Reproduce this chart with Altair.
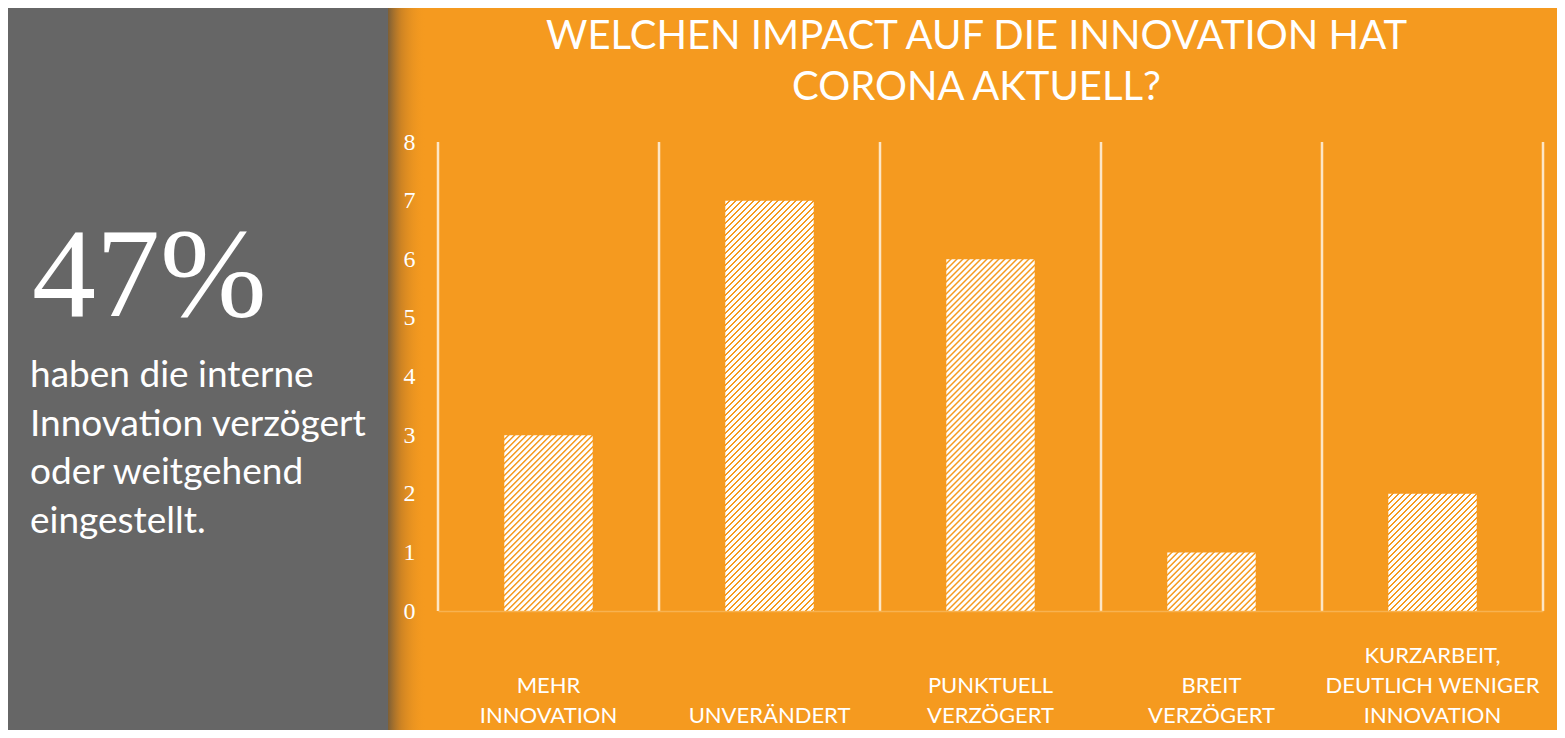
import json
import altair as alt
import pandas as pd

# ---------------- data ----------------
CATEGORIES = [
    "MEHR INNOVATION",
    "UNVERÄNDERT",
    "PUNKTUELL VERZÖGERT",
    "BREIT VERZÖGERT",
    "KURZARBEIT, DEUTLICH WENIGER INNOVATION",
]
X_LABEL_LINES = [
    ["MEHR", "INNOVATION"],
    ["UNVERÄNDERT"],
    ["PUNKTUELL", "VERZÖGERT"],
    ["BREIT", "VERZÖGERT"],
    ["KURZARBEIT,", "DEUTLICH WENIGER", "INNOVATION"],
]
COUNTS = [3, 7, 6, 1, 2]
Y_TICKS = [0, 1, 2, 3, 4, 5, 6, 7, 8]
TITLE_LINES = ["WELCHEN IMPACT AUF DIE INNOVATION HAT", "CORONA AKTUELL?"]
BIG_NUMBER = "47%"
NOTE_LINES = ["haben die interne", "Innovation verzögert", "oder weitgehend", "eingestellt."]

# ---------------- style ----------------
ORANGE = "#F59A1F"
GREY = "#666666"
GRID = "#FDE6C5"
W, H = 1105, 469
PAD = {"left": 430, "top": 134, "right": 14, "bottom": 119}
Y_MAX = 8
BAND_FRAC = 0.4
SANS = "Lato"
SERIF = "Liberation Serif"
LABEL_LH = 30
LABEL_PAD_TOP_LINE = 51   # distance from axis to the baseline of a 3-line label's first line

df = pd.DataFrame({"cat": CATEGORIES, "n": COUNTS})
one = alt.InlineData(values=[{"k": 0}])

xscale = alt.Scale(domain=CATEGORIES, paddingInner=0, paddingOuter=0)
yscale = alt.Scale(domain=[0, Y_MAX], nice=False)

# multi-line x labels
max_lines = max(len(l) for l in X_LABEL_LINES)
label_expr = "''"
for c, lines in reversed(list(zip(CATEGORIES, X_LABEL_LINES))):
    label_expr = "datum.label == %s ? %s : (%s)" % (
        json.dumps(c, ensure_ascii=False), json.dumps(lines, ensure_ascii=False), label_expr)

# bottom-align labels: shorter labels get more padding
pad_conditions = []
for nl in range(1, max_lines):
    cats = [c for c, l in zip(CATEGORIES, X_LABEL_LINES) if len(l) == nl]
    if cats:
        test = " || ".join("datum.label == %s" % json.dumps(c, ensure_ascii=False) for c in cats)
        pad_conditions.append({"test": test,
                               "value": LABEL_PAD_TOP_LINE + (max_lines - nl) * LABEL_LH})
label_padding = {"condition": pad_conditions, "value": LABEL_PAD_TOP_LINE}


def hatch(value):
    """diagonal '/' hatch: period of 6 px along x+y (pixel aligned, no moire)."""
    step = W / len(CATEGORIES)
    w = step * BAND_FRAC
    h = value / Y_MAX * H
    P = 6.0
    total = w + h
    prof = [(0.0, "#FFFFFF"), (0.52, "#FFFFFF"), (0.62, ORANGE), (0.86, ORANGE), (0.96, "#FFFFFF")]
    stops = []
    j = 0
    while j * P < total:
        for f, col in prof:
            off = (j + f) * P / total
            if off <= 1.0:
                stops.append({"offset": round(off, 6), "color": col})
        j += 1
    s = total / (w * w + h * h)
    return {"gradient": "linear", "x1": 0, "y1": 0, "x2": s * w, "y2": s * h, "stops": stops}


# background panel on the left
panel = alt.Chart(one).mark_rect(color=GREY).encode(
    x=alt.value(-PAD["left"]), x2=alt.value(-50),
    y=alt.value(-PAD["top"]), y2=alt.value(H + PAD["bottom"])
)
shadow = alt.Chart(one).mark_rect(
    fill={"gradient": "linear", "x1": 0, "y1": 0, "x2": 1, "y2": 0,
          "stops": [{"offset": 0, "color": "rgba(95,80,60,0.8)"},
                    {"offset": 0.35, "color": "rgba(160,105,40,0.45)"},
                    {"offset": 1, "color": "rgba(245,154,31,0)"}]}
).encode(
    x=alt.value(-50), x2=alt.value(-12),
    y=alt.value(-PAD["top"]), y2=alt.value(H + PAD["bottom"])
)

bars = []
for i, (c, v) in enumerate(zip(CATEGORIES, COUNTS)):
    if i == 0:
        xenc = alt.X("cat:N", scale=xscale, title=None, axis=alt.Axis(
            title=None, labelExpr=label_expr, labelFont=SANS,
            labelFontSize=22, labelColor="#FFFFFF", labelLineHeight=LABEL_LH,
            labelBaseline="alphabetic", labelPadding=label_padding, ticks=False, tickSize=0,
            domainColor="#F8B250", domainWidth=1.5, grid=False, labelAngle=0,
            labelAlign="center", labelLimit=400, labelOverlap=False, labelFlush=False,
            zindex=1))
        yenc = alt.Y("n:Q", scale=yscale, title=None, axis=alt.Axis(
            title=None, values=Y_TICKS, format="d", labelFont=SERIF, labelFontSize=24,
            labelColor="#FFFFFF", domain=False, ticks=False, tickSize=0, grid=False,
            labelPadding=23, zindex=1))
    else:
        xenc = alt.X("cat:N", scale=xscale, title=None)
        yenc = alt.Y("n:Q", scale=yscale, title=None)
    bars.append(
        alt.Chart(df).transform_filter(alt.datum.cat == c).mark_bar(
            fill=hatch(v), width=alt.RelativeBandSize(BAND_FRAC)
        ).encode(x=xenc, y=yenc)
    )

# vertical separators between categories
grid_full = alt.Chart(df).mark_rule(color=GRID, strokeWidth=2.5).encode(
    x=alt.X("cat:N", scale=xscale, bandPosition=0, title=None),
    y=alt.YDatum(0, scale=yscale, title=None),
    y2=alt.Y2Datum(Y_MAX),
)
last_grid = alt.Chart(df.tail(1)).mark_rule(color=GRID, strokeWidth=2.5).encode(
    x=alt.X("cat:N", scale=xscale, bandPosition=1, title=None),
    y=alt.YDatum(0, scale=yscale, title=None),
    y2=alt.Y2Datum(Y_MAX),
)

title = alt.Chart(one).mark_text(
    font=SANS, fontSize=40, color="#FFFFFF", align="center", baseline="alphabetic",
    lineHeight=51
).encode(x=alt.value(538.5), y=alt.value(-93), text=alt.value(TITLE_LINES))

big = alt.Chart(one).mark_text(
    font=SERIF, fontSize=128, color="#FFFFFF", align="left", baseline="alphabetic"
).encode(x=alt.value(-406), y=alt.value(174), text=alt.value(BIG_NUMBER))

note = alt.Chart(one).mark_text(
    font=SANS, fontSize=37, color="#FFFFFF", align="left", baseline="alphabetic",
    lineHeight=48.5
).encode(x=alt.value(-408), y=alt.value(245), text=alt.value(NOTE_LINES))

chart = alt.layer(panel, shadow, *bars, grid_full, last_grid, title, big, note).properties(
    width=W, height=H,
    padding=PAD,
    autosize=alt.AutoSizeParams(type="none"),
    background=ORANGE,
).configure_view(stroke=None)

chart.save("out.html", embed_options={"renderer": "svg", "actions": False})
